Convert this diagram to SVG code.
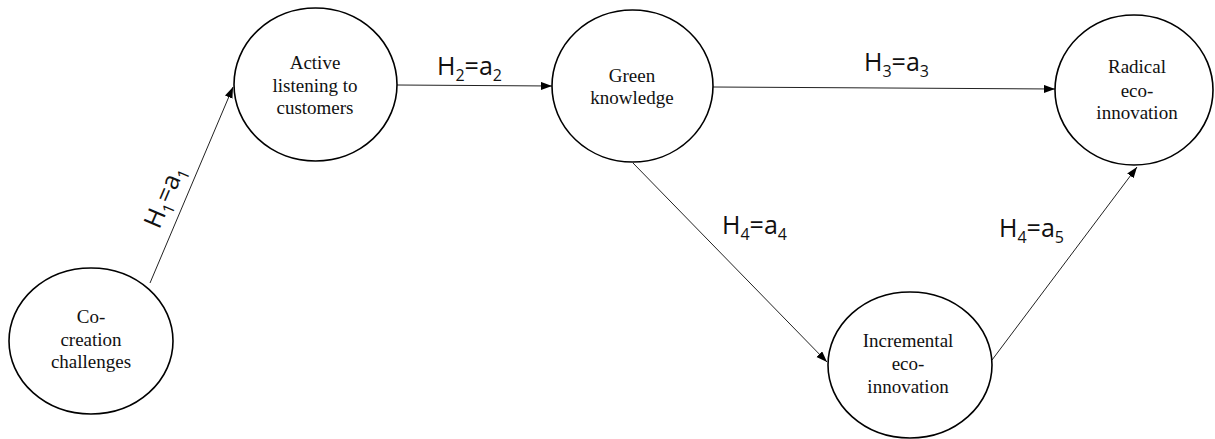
<svg xmlns="http://www.w3.org/2000/svg" width="1215" height="439" viewBox="0 0 1215 439">
<style>
.node{fill:#fff;stroke:#000;stroke-width:1.6}
.nt{font-family:"Liberation Serif","Times New Roman",serif;font-size:19px;fill:#111;text-anchor:middle}
.lbl{font-family:"Open Sans","Liberation Sans",sans-serif;font-size:25px;fill:#111}
.sub{font-size:16px}
.edge{stroke:#222;stroke-width:1;fill:none;marker-end:url(#arr)}
</style>
<defs>
<marker id="arr" markerUnits="userSpaceOnUse" markerWidth="12" markerHeight="9" refX="11" refY="4" orient="auto">
<path d="M0,0 L11,4 L0,8 z" fill="#000"/>
</marker>
</defs>
<rect width="1215" height="439" fill="#fff"/>
<g id="connectors">
<line class="edge" x1="150" y1="283" x2="233" y2="87"/>
<line class="edge" x1="397" y1="85" x2="552" y2="86"/>
<line class="edge" x1="713" y1="87" x2="1055" y2="89"/>
<line class="edge" x1="633" y1="163" x2="827" y2="362"/>
<line class="edge" x1="992" y1="360" x2="1137" y2="167"/>
<text class="lbl" transform="translate(172,200) rotate(-67)" text-anchor="middle">H<tspan class="sub" dy="6">1</tspan><tspan dy="-6">=a</tspan><tspan class="sub" dy="6">1</tspan></text>
<text class="lbl" x="437" y="75">H<tspan class="sub" dy="6">2</tspan><tspan dy="-6">=a</tspan><tspan class="sub" dy="6">2</tspan></text>
<text class="lbl" x="864" y="71">H<tspan class="sub" dy="6">3</tspan><tspan dy="-6">=a</tspan><tspan class="sub" dy="6">3</tspan></text>
<text class="lbl" x="722" y="234">H<tspan class="sub" dy="6">4</tspan><tspan dy="-6">=a</tspan><tspan class="sub" dy="6">4</tspan></text>
<text class="lbl" x="999" y="237">H<tspan class="sub" dy="6">4</tspan><tspan dy="-6">=a</tspan><tspan class="sub" dy="6">5</tspan></text>
</g>
<g id="cocreation">
<ellipse class="node" cx="91" cy="341" rx="82" ry="73"/>
<text class="nt" x="91" y="323">Co-</text>
<text class="nt" x="91" y="346">creation</text>
<text class="nt" x="91" y="368">challenges</text>
</g>
<g id="active">
<ellipse class="node" cx="315.5" cy="84.5" rx="81.5" ry="76.5"/>
<text class="nt" x="315" y="69">Active</text>
<text class="nt" x="315" y="92">listening to</text>
<text class="nt" x="315" y="114">customers</text>
</g>
<g id="green">
<ellipse class="node" cx="632.5" cy="86" rx="80.5" ry="76"/>
<text class="nt" x="632" y="82">Green</text>
<text class="nt" x="632" y="104">knowledge</text>
</g>
<g id="radical">
<ellipse class="node" cx="1134" cy="90" rx="79" ry="75"/>
<text class="nt" x="1137" y="73">Radical</text>
<text class="nt" x="1137" y="97">eco-</text>
<text class="nt" x="1137" y="119">innovation</text>
</g>
<g id="incremental">
<ellipse class="node" cx="910" cy="365" rx="82" ry="73"/>
<text class="nt" x="908" y="347">Incremental</text>
<text class="nt" x="908" y="370">eco-</text>
<text class="nt" x="908" y="393">innovation</text>
</g>
</svg>
